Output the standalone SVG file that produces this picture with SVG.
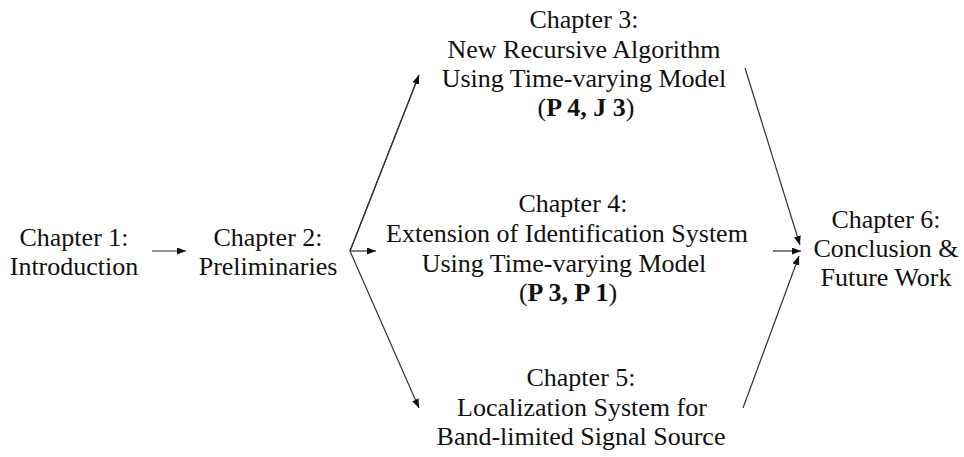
<svg xmlns="http://www.w3.org/2000/svg" width="964" height="457" viewBox="0 0 964 457">
<defs>
<style>
text{font-family:"Liberation Serif","Times New Roman",serif;font-size:26px;fill:#111;text-anchor:middle}
.b{font-weight:bold}
.c{stroke:#333;stroke-width:1.2;fill:none}
</style>
<marker id="ah" markerUnits="userSpaceOnUse" markerWidth="10" markerHeight="8" refX="9" refY="3.5" orient="auto">
<path d="M0,0 L9,3.5 L0,7 z" fill="#111"/>
</marker>
</defs>
<rect width="964" height="457" fill="#fff"/>
<g id="connectors">
<line class="c" x1="152" y1="251" x2="186" y2="251" marker-end="url(#ah)"/>
<polyline class="c" points="419,75 350,251 419,408" marker-end="url(#ah)"/>
<path class="c" d="M350,251 L419,75" marker-end="url(#ah)"/>
<line class="c" x1="350" y1="251" x2="376" y2="251" marker-end="url(#ah)"/>
<line class="c" x1="745" y1="68" x2="800" y2="245" marker-end="url(#ah)"/>
<line class="c" x1="773" y1="251" x2="801" y2="251" marker-end="url(#ah)"/>
<line class="c" x1="743" y1="408" x2="799" y2="256" marker-end="url(#ah)"/>
</g>
<g id="ch1">
<text x="74" y="246">Chapter 1:</text>
<text x="74" y="275">Introduction</text>
</g>
<g id="ch2">
<text x="268" y="246">Chapter 2:</text>
<text x="268" y="275">Preliminaries</text>
</g>
<g id="ch3">
<text x="584" y="28">Chapter 3:</text>
<text x="584" y="58">New Recursive Algorithm</text>
<text x="584" y="87">Using Time-varying Model</text>
<text x="586" y="116">(<tspan class="b">P 4, J 3</tspan>)</text>
</g>
<g id="ch4">
<text x="573" y="212">Chapter 4:</text>
<text x="567" y="242">Extension of Identification System</text>
<text x="564" y="272">Using Time-varying Model</text>
<text x="568" y="301">(<tspan class="b">P 3, P 1</tspan>)</text>
</g>
<g id="ch5">
<text x="581" y="386">Chapter 5:</text>
<text x="582" y="416">Localization System for</text>
<text x="581" y="445">Band-limited Signal Source</text>
</g>
<g id="ch6">
<text x="886" y="228">Chapter 6:</text>
<text x="886" y="257">Conclusion &amp;</text>
<text x="886" y="286">Future Work</text>
</g>
</svg>
